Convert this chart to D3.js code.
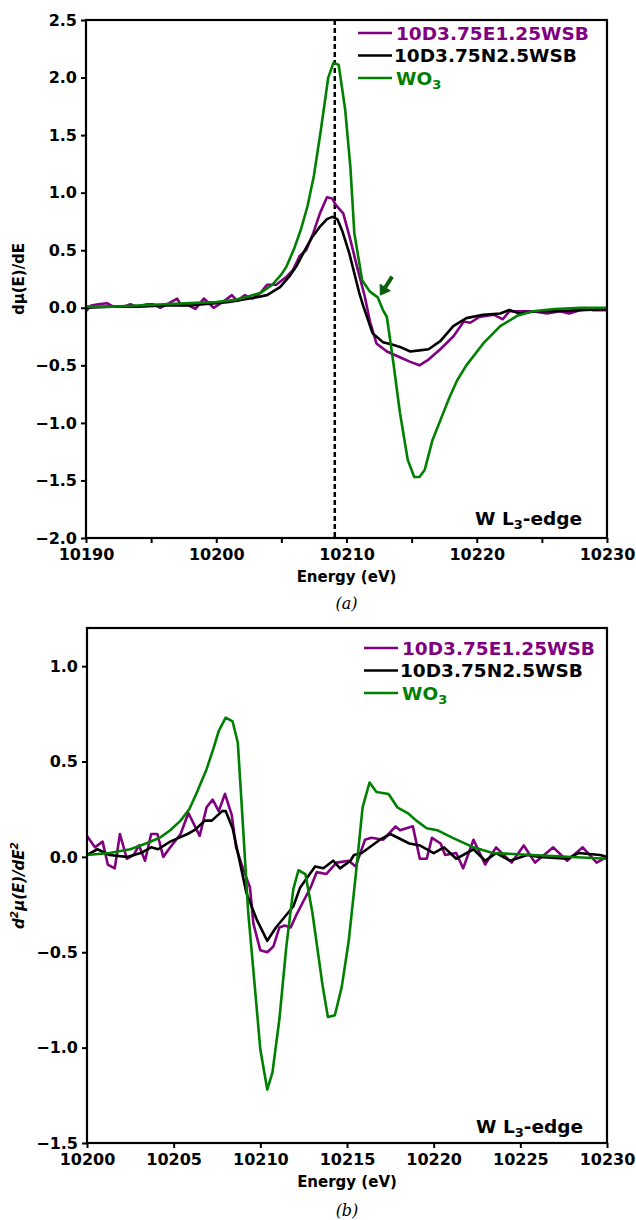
<!DOCTYPE html>
<html>
<head>
<meta charset="utf-8">
<script src="https://cdn.jsdelivr.net/npm/d3@7/dist/d3.min.js"></script>
<style>
  html, body { margin: 0; padding: 0; background: #fff; }
  svg { display: block; }
  .tick text { font-family: "DejaVu Sans", sans-serif; font-weight: bold; font-size: 16px; fill: #000; }
</style>
</head>
<body>
<svg id="chart" width="636" height="1220"></svg>
<script>
// ---------- DATA ----------
const seriesNames = ["10D3.75E1.25WSB", "10D3.75N2.5WSB", "WO3"];
const seriesColors = ["#800080", "#000000", "#008000"];

// Panel (a): first derivative dμ(E)/dE, [energy eV, value]
const aPurple = [
  [10190.0,-0.03],[10190.4,0.02],[10190.95,0.03],[10191.6,0.04],[10192.1,0.01],[10192.9,0.01],
  [10193.4,0.03],[10193.9,0.01],[10194.7,0.03],[10195.2,0.03],[10195.7,0.0],[10196.2,0.03],
  [10197.0,0.08],[10197.3,0.02],[10197.7,0.03],[10198.4,-0.01],[10199.05,0.08],[10199.8,0.0],
  [10200.5,0.05],[10201.2,0.11],[10201.6,0.06],[10202.2,0.11],[10202.8,0.08],[10203.4,0.13],
  [10203.9,0.20],[10204.6,0.20],[10205.4,0.27],[10205.9,0.33],[10206.4,0.45],[10206.9,0.50],
  [10207.45,0.65],[10207.96,0.82],[10208.5,0.96],[10208.9,0.95],[10209.2,0.89],[10209.75,0.82],
  [10210.3,0.59],[10210.8,0.36],[10211.4,0.10],[10211.8,-0.12],[10212.3,-0.31],[10213.1,-0.38],
  [10214.1,-0.43],[10214.9,-0.47],[10215.6,-0.50],[10216.3,-0.45],[10217.2,-0.36],[10218.2,-0.25],
  [10219.0,-0.12],[10219.5,-0.13],[10220.2,-0.08],[10221.3,-0.06],[10222.0,-0.10],[10222.5,-0.03],
  [10223.4,-0.03],[10224.3,-0.03],[10225.4,-0.05],[10226.4,-0.03],[10227.1,-0.05],[10228.2,-0.01],
  [10228.9,-0.02],[10230.0,-0.02]
];
const aBlack = [
  [10190,0.0],[10192,0.01],[10194,0.01],[10196,0.02],[10198,0.02],[10199,0.03],[10200,0.04],
  [10201,0.05],[10202,0.07],[10203,0.09],[10203.9,0.11],[10204.9,0.18],[10205.6,0.27],[10206.2,0.37],
  [10206.8,0.50],[10207.4,0.62],[10208.0,0.71],[10208.5,0.77],[10208.9,0.79],[10209.3,0.77],
  [10209.7,0.66],[10210.2,0.48],[10210.6,0.30],[10211.0,0.12],[10211.3,0.01],[10212.0,-0.22],
  [10212.8,-0.30],[10213.5,-0.32],[10214.1,-0.34],[10214.9,-0.38],[10215.6,-0.37],[10216.3,-0.36],
  [10217.2,-0.29],[10218.2,-0.16],[10219.2,-0.09],[10220.5,-0.06],[10221.8,-0.05],[10222.5,-0.02],
  [10223.3,-0.05],[10224.5,-0.03],[10226,-0.03],[10228,-0.02],[10230,-0.01]
];
const aGreen = [
  [10190,0.01],[10192,0.01],[10194,0.02],[10196,0.03],[10198,0.04],[10200,0.05],[10201.5,0.07],
  [10202.5,0.10],[10203.4,0.13],[10204.3,0.20],[10205.0,0.29],[10205.4,0.36],[10206.0,0.52],
  [10206.5,0.68],[10207.0,0.88],[10207.5,1.15],[10208.0,1.52],[10208.6,2.00],[10209.0,2.13],
  [10209.4,2.11],[10209.9,1.72],[10210.3,1.22],[10210.6,0.65],[10211.2,0.24],[10211.8,0.14],
  [10212.4,0.09],[10212.8,-0.02],[10213.1,-0.08],[10213.6,-0.48],[10214.1,-0.91],[10214.7,-1.32],
  [10215.2,-1.47],[10215.6,-1.47],[10216.0,-1.41],[10216.6,-1.15],[10217.3,-0.95],[10217.9,-0.78],
  [10218.5,-0.63],[10219.2,-0.50],[10220.5,-0.31],[10221.8,-0.16],[10223.1,-0.07],[10224.3,-0.03],
  [10226,-0.01],[10228,0.0],[10230,0.0]
];
const aEdgeEnergy = 10209.1;                 // dashed vertical marker
const aArrow = [[10213.5, 0.27], [10212.6, 0.11]];   // [tail, head]

// Panel (b): second derivative d²μ(E)/dE², [energy eV, value]
const bPurple = [
  [10200.0,0.11],[10200.46,0.05],[10200.9,0.08],[10201.2,-0.04],[10201.6,-0.06],[10201.9,0.12],
  [10202.3,-0.01],[10202.7,0.01],[10203.0,0.06],[10203.35,-0.02],[10203.7,0.12],[10204.06,0.12],
  [10204.4,0.0],[10204.8,0.05],[10205.4,0.12],[10205.85,0.23],[10206.5,0.11],[10206.9,0.26],
  [10207.25,0.30],[10207.6,0.24],[10207.96,0.33],[10208.35,0.22],[10208.6,0.05],[10209.0,-0.06],
  [10209.4,-0.16],[10209.6,-0.35],[10210.0,-0.49],[10210.4,-0.50],[10210.75,-0.47],[10211.1,-0.37],
  [10211.4,-0.36],[10211.75,-0.37],[10212.1,-0.30],[10212.5,-0.23],[10212.9,-0.16],[10213.25,-0.08],
  [10213.8,-0.09],[10214.4,-0.03],[10215.1,-0.02],[10215.5,-0.05],[10216.04,0.09],[10216.4,0.10],
  [10217.1,0.09],[10217.8,0.16],[10218.06,0.14],[10218.8,0.16],[10219.2,-0.01],[10219.6,-0.01],
  [10219.9,0.10],[10220.4,0.07],[10220.66,0.01],[10221.3,0.02],[10221.7,-0.06],[10222.3,0.09],
  [10222.97,-0.04],[10223.6,0.05],[10224.5,-0.03],[10225.2,0.06],[10225.85,-0.03],[10226.9,0.05],
  [10227.7,-0.02],[10228.6,0.05],[10229.4,-0.03],[10230.0,0.0]
];
const bBlack = [
  [10200,0.01],[10200.6,0.04],[10201.3,0.01],[10202.3,0.0],[10203.1,0.02],[10203.7,0.05],
  [10204.1,0.04],[10204.8,0.08],[10205.8,0.12],[10206.2,0.14],[10206.8,0.19],[10207.2,0.19],
  [10207.8,0.24],[10208.0,0.24],[10208.4,0.15],[10209.2,-0.19],[10209.8,-0.33],[10210.4,-0.44],
  [10210.9,-0.37],[10211.9,-0.26],[10212.3,-0.16],[10213.16,-0.05],[10213.64,-0.06],[10214.2,-0.02],
  [10214.6,-0.06],[10215.2,-0.02],[10215.4,0.01],[10215.85,0.02],[10216.9,0.09],[10217.5,0.12],
  [10218.6,0.07],[10219.2,0.06],[10220.0,0.02],[10220.6,0.05],[10221.3,-0.01],[10222.3,0.04],
  [10222.97,-0.02],[10223.6,0.02],[10224.4,-0.02],[10225.4,0.01],[10226.1,0.0],[10227.7,-0.01],
  [10228.35,0.02],[10229.6,0.01],[10230,0.0]
];
const bGreen = [
  [10200,0.01],[10201.3,0.02],[10202.5,0.04],[10203.4,0.07],[10204.2,0.10],[10204.8,0.14],
  [10205.4,0.19],[10205.9,0.25],[10206.3,0.33],[10206.9,0.46],[10207.3,0.57],[10207.6,0.66],
  [10208.0,0.73],[10208.4,0.71],[10208.7,0.60],[10209.0,0.16],[10209.3,-0.29],[10209.7,-0.70],
  [10210.0,-1.01],[10210.4,-1.22],[10210.7,-1.13],[10211.1,-0.85],[10211.5,-0.47],[10211.9,-0.17],
  [10212.2,-0.07],[10212.6,-0.09],[10213.0,-0.29],[10213.6,-0.68],[10213.9,-0.84],[10214.3,-0.83],
  [10214.7,-0.68],[10215.1,-0.44],[10215.5,-0.10],[10215.9,0.26],[10216.3,0.39],[10216.7,0.34],
  [10217.4,0.33],[10217.9,0.26],[10218.5,0.23],[10219.0,0.19],[10219.6,0.15],[10220.2,0.14],
  [10221.1,0.10],[10222.3,0.05],[10223.4,0.02],[10225.7,0.01],[10230,-0.01]
];

// Axis ticks
const aXTicks = [10190, 10195, 10200, 10205, 10210, 10215, 10220, 10225, 10230];
const aXLabels = [10190, 10200, 10210, 10220, 10230];
const aYTicks = [-2.0, -1.5, -1.0, -0.5, 0.0, 0.5, 1.0, 1.5, 2.0, 2.5];
const bXTicks = [10200, 10205, 10210, 10215, 10220, 10225, 10230];
const bYTicks = [-1.5, -1.0, -0.5, 0.0, 0.5, 1.0];

// ---------- DRAW ----------
const svg = d3.select("#chart");
const FONT = "DejaVu Sans, sans-serif";

function panel(cfg) {
  const { left, right, top, bottom, xDomain, yDomain, xTicks, xLabelSet, yTicks, series } = cfg;
  const x = d3.scaleLinear().domain(xDomain).range([left, right]);
  const y = d3.scaleLinear().domain(yDomain).range([bottom, top]);
  const g = svg.append("g");

  // x axis
  const xAxis = d3.axisBottom(x).tickValues(xTicks).tickSize(5).tickPadding(3)
    .tickFormat(d => xLabelSet.includes(d) ? String(d) : "");
  const gx = g.append("g").attr("transform", `translate(0,${bottom})`).call(xAxis);
  gx.select(".domain").remove();
  gx.selectAll(".tick line").attr("stroke", "#000").attr("stroke-width", 2);
  gx.selectAll(".tick text").attr("dy", "0.85em");

  // y axis
  const yAxis = d3.axisLeft(y).tickValues(yTicks).tickSize(5).tickPadding(4)
    .tickFormat(d => d < 0 ? "\u2212" + Math.abs(d).toFixed(1) : d.toFixed(1));
  const gy = g.append("g").attr("transform", `translate(${left},0)`).call(yAxis);
  gy.select(".domain").remove();
  gy.selectAll(".tick line").attr("stroke", "#000").attr("stroke-width", 2);

  const clipId = "clip" + Math.round(top);
  svg.append("clipPath").attr("id", clipId).append("rect")
    .attr("x", left).attr("y", top).attr("width", right - left).attr("height", bottom - top);

  const plot = g.append("g").attr("clip-path", `url(#${clipId})`);
  const line = d3.line().x(d => x(d[0])).y(d => y(d[1]));

  if (cfg.dashed !== undefined) {
    plot.append("line")
      .attr("x1", x(cfg.dashed)).attr("x2", x(cfg.dashed))
      .attr("y1", top).attr("y2", bottom)
      .attr("stroke", "#000").attr("stroke-width", 2.5).attr("stroke-dasharray", "5,3");
  }

  series.forEach((s, i) => {
    plot.append("path").datum(s)
      .attr("fill", "none").attr("stroke", seriesColors[i])
      .attr("stroke-width", 2.6).attr("stroke-linejoin", "round")
      .attr("d", line);
  });

  if (cfg.arrow) {
    const [t, h] = cfg.arrow;
    const x1 = x(t[0]), y1 = y(t[1]), x2 = x(h[0]), y2 = y(h[1]);
    const ang = Math.atan2(y2 - y1, x2 - x1);
    const headLen = 9, headW = 6;
    const bx = x2 - headLen * Math.cos(ang), by = y2 - headLen * Math.sin(ang);
    g.append("line").attr("x1", x1).attr("y1", y1).attr("x2", bx).attr("y2", by)
      .attr("stroke", "#0b5d0b").attr("stroke-width", 4);
    const px = -Math.sin(ang), py = Math.cos(ang);
    g.append("polygon")
      .attr("points", [[x2, y2], [bx + px * headW, by + py * headW], [bx - px * headW, by - py * headW]]
        .map(p => p.join(",")).join(" "))
      .attr("fill", "#0b5d0b").attr("stroke", "#0b5d0b").attr("stroke-width", 1);
  }

  // frame
  g.append("rect").attr("x", left).attr("y", top).attr("width", right - left).attr("height", bottom - top)
    .attr("fill", "none").attr("stroke", "#000").attr("stroke-width", 2.2);

  // legend
  const lg = g.append("g");
  seriesNames.forEach((name, i) => {
    const ly = cfg.legendY + i * 22.5;
    lg.append("line").attr("x1", cfg.legendX).attr("x2", cfg.legendX + 34)
      .attr("y1", ly).attr("y2", ly).attr("stroke", seriesColors[i]).attr("stroke-width", 2.6);
    const t = lg.append("text").attr("x", cfg.legendX + 38 + (i === 1 ? -2 : 0)).attr("y", ly + 6.5)
      .attr("font-family", FONT).attr("font-weight", "bold").attr("font-size", 18.5)
      .attr("fill", seriesColors[i] === "#000000" ? "#000" : seriesColors[i]);
    if (name === "WO3") {
      t.append("tspan").text("WO");
      t.append("tspan").attr("font-size", 13).attr("dy", 4).text("3");
    } else {
      t.text(name);
    }
  });

  // edge label
  const el = g.append("text").attr("x", cfg.edgeX).attr("y", cfg.edgeY).attr("text-anchor", "end")
    .attr("font-family", FONT).attr("font-weight", "bold").attr("font-size", 18.5).attr("fill", "#000");
  el.append("tspan").text("W L");
  el.append("tspan").attr("font-size", 13).attr("dy", 4).text("3");
  el.append("tspan").attr("dy", -4).text("-edge");

  // x axis title
  g.append("text").attr("x", (left + right) / 2).attr("y", bottom + 44)
    .attr("text-anchor", "middle").attr("font-family", FONT).attr("font-weight", "bold")
    .attr("font-size", 15).text("Energy (eV)");

  // caption
  g.append("text").attr("x", (left + right) / 2).attr("y", cfg.captionY)
    .attr("text-anchor", "middle").attr("font-family", "DejaVu Serif, serif").attr("font-style", "italic")
    .attr("font-size", 16).text(cfg.caption);

  return { x, y, g };
}

// Panel (a)
const pa = panel({
  left: 86, right: 607, top: 20, bottom: 538,
  xDomain: [10190, 10230], yDomain: [-2.0, 2.5],
  xTicks: aXTicks, xLabelSet: aXLabels, yTicks: aYTicks,
  series: [aPurple, aBlack, aGreen],
  dashed: aEdgeEnergy, arrow: aArrow,
  legendX: 358, legendY: 33,
  edgeX: 582, edgeY: 525,
  caption: "(a)", captionY: 609
});
pa.g.append("text")
  .attr("transform", `translate(24,${(20 + 538) / 2}) rotate(-90)`)
  .attr("text-anchor", "middle").attr("font-family", FONT).attr("font-weight", "bold")
  .attr("font-size", 15).text("dμ(E)/dE");

// Panel (b)
const pb = panel({
  left: 87, right: 607, top: 628, bottom: 1143,
  xDomain: [10200, 10230], yDomain: [-1.5, 1.2],
  xTicks: bXTicks, xLabelSet: bXTicks, yTicks: bYTicks,
  series: [bPurple, bBlack, bGreen],
  legendX: 364, legendY: 648,
  edgeX: 583, edgeY: 1133,
  caption: "(b)", captionY: 1216
});
const yl = pb.g.append("text")
  .attr("transform", `translate(24,${(628 + 1143) / 2}) rotate(-90)`)
  .attr("text-anchor", "middle").attr("font-family", FONT).attr("font-weight", "bold")
  .attr("font-style", "italic").attr("font-size", 15);
yl.append("tspan").text("d");
yl.append("tspan").attr("font-size", 10.5).attr("dy", -6).text("2");
yl.append("tspan").attr("dy", 6).text("μ(E)/dE");
yl.append("tspan").attr("font-size", 10.5).attr("dy", -6).text("2");
</script>
</body>
</html>
